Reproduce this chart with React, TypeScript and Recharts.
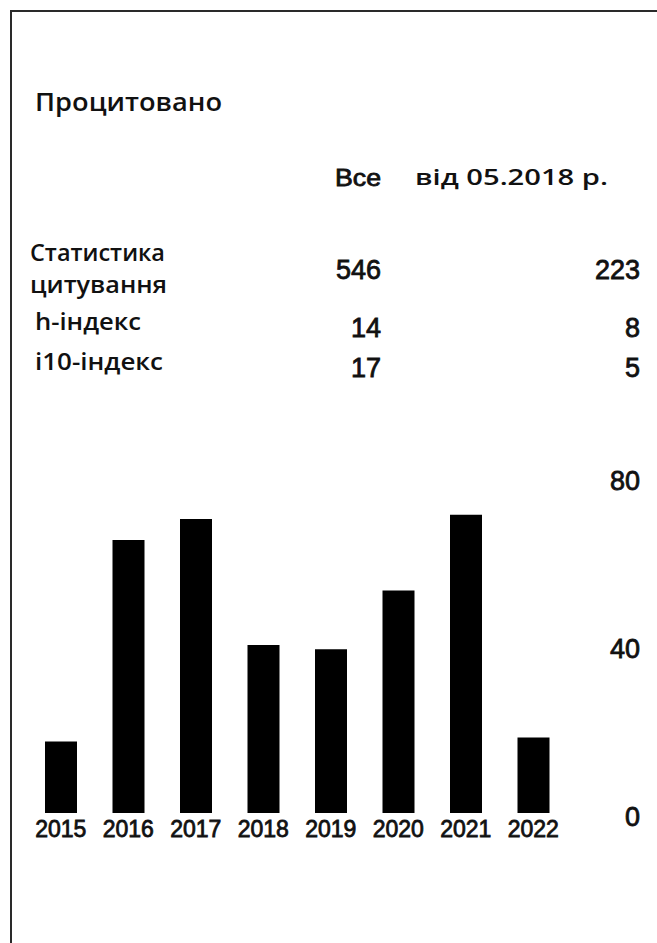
import { Bar, BarChart, XAxis, YAxis } from "recharts";

const years = ["2015", "2016", "2017", "2018", "2019", "2020", "2021", "2022"];
const citations = [17, 65, 70, 40, 39, 53, 71, 18];
const yTicks = [0, 40, 80];

const title = "Процитовано";
const columnHeads = ["Все", "від 05.2018 р."];
const statLabels = ["Статистика цитування", "h-індекс", "і10-індекс"];
const allTime = [546, 14, 17];
const sinceYear = [223, 8, 5];

const data = years.map((year, i) => ({ year, value: citations[i] }));

const LABEL_FONT = "'Open Sans', 'Noto Sans', sans-serif";
const NUM_FONT = "'Liberation Sans', Arial, sans-serif";

const W = 657;
const H = 943;

function YearTick({ x, y, payload }: { x?: number; y?: number; payload?: { value: string } }) {
  return (
    <text
      x={x}
      y={(y ?? 0) + 24}
      textAnchor="middle"
      fontFamily={NUM_FONT}
      fontSize={23}
      fill="#111"
      stroke="#111"
      strokeWidth={0.8}
    >
      {payload?.value}
    </text>
  );
}

function CountTick({ x, y, payload }: { x?: number; y?: number; payload?: { value: number } }) {
  return (
    <text
      x={(x ?? 0) + 73}
      y={(y ?? 0) + 13}
      textAnchor="end"
      fontFamily={NUM_FONT}
      fontSize={27}
      fill="#111"
      stroke="#111"
      strokeWidth={0.8}
    >
      {payload?.value}
    </text>
  );
}

function StatsTable() {
  const rowBase = [279, 337, 377];
  const [statTop, statBottom] = statLabels[0].split(" ");
  const numProps = {
    fontFamily: NUM_FONT,
    fontSize: 27,
    fill: "#111",
    stroke: "#111",
    strokeWidth: 0.8,
    textAnchor: "end" as const,
  };
  const lblProps = { fontFamily: LABEL_FONT, fontWeight: 600, fill: "#111" };
  return (
    <svg width={W} height={H} style={{ position: "absolute", left: 0, top: 0, pointerEvents: "none" }}>
      <text x={35} y={111} fontSize={26} textLength={187} lengthAdjust="spacingAndGlyphs" {...lblProps}>
        {title}
      </text>
      <text x={381} y={186} {...numProps} fontSize={24} textLength={46} lengthAdjust="spacingAndGlyphs">
        {columnHeads[0]}
      </text>
      <text x={415} y={185} fontSize={21} textLength={193} lengthAdjust="spacingAndGlyphs" {...lblProps}>
        {columnHeads[1]}
      </text>

      <text x={30} y={261} fontSize={23} textLength={135} lengthAdjust="spacingAndGlyphs" {...lblProps}>
        {statTop}
      </text>
      <text x={30} y={293} fontSize={23} textLength={137} lengthAdjust="spacingAndGlyphs" {...lblProps}>
        {statBottom}
      </text>
      <text x={35} y={330} fontSize={23} textLength={106} lengthAdjust="spacingAndGlyphs" {...lblProps}>
        {statLabels[1]}
      </text>
      <text x={35} y={370} fontSize={23} textLength={128} lengthAdjust="spacingAndGlyphs" {...lblProps}>
        {statLabels[2]}
      </text>

      {allTime.map((v, i) => (
        <text key={"a" + i} x={381} y={rowBase[i]} {...numProps}>
          {v}
        </text>
      ))}
      {sinceYear.map((v, i) => (
        <text key={"s" + i} x={640} y={rowBase[i]} {...numProps}>
          {v}
        </text>
      ))}
    </svg>
  );
}

export default function App() {
  return (
    <div style={{ position: "relative", width: W, height: H, background: "#fff", overflow: "hidden" }}>
      <style>{"body{margin:0;}"}</style>
      {/* scan frame: top and left edges only */}
      <div
        style={{
          position: "absolute",
          left: 10,
          top: 10,
          right: -4,
          bottom: -4,
          borderTop: "2px solid #2a2a2a",
          borderLeft: "2px solid #2a2a2a",
        }}
      />
      <div style={{ position: "absolute", left: 0, top: 0 }}>
        <BarChart width={W} height={H} data={data} margin={{ top: 477, right: 10, bottom: 90, left: 27 }}>
          <XAxis
            dataKey="year"
            axisLine={false}
            tickLine={false}
            tickSize={0}
            tickMargin={0}
            height={40}
            interval={0}
            tick={<YearTick />}
          />
          <YAxis
            orientation="right"
            domain={[0, 80]}
            ticks={yTicks}
            axisLine={false}
            tickLine={false}
            tickSize={0}
            tickMargin={0}
            width={80}
            tick={<CountTick />}
          />
          <Bar dataKey="value" fill="#000" barSize={32} isAnimationActive={false} />
        </BarChart>
      </div>
      <StatsTable />
    </div>
  );
}
